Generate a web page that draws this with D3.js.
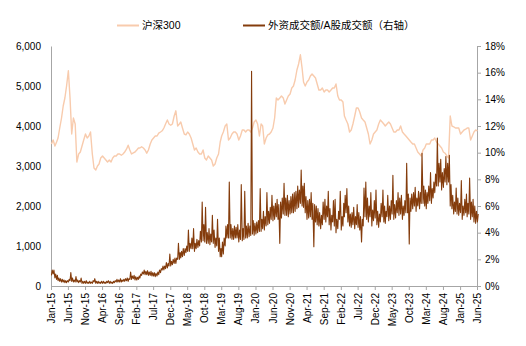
<!DOCTYPE html>
<html><head><meta charset="utf-8">
<script src="https://cdn.jsdelivr.net/npm/d3@7/dist/d3.min.js"></script>
<style>body{margin:0;background:#fff}text{font-family:"Liberation Sans",Arial,"Noto Sans CJK SC",sans-serif}</style>
</head><body><svg id="c" width="526" height="346"></svg>
<script>
// ---------- data (half-monthly samples starting Jan 2015) ----------
const sampleStart = "2015-01-05";
const seriesNames = ["沪深300", "外资成交额/A股成交额（右轴）"];
const leftTicks = [0, 1000, 2000, 3000, 4000, 5000, 6000];
const rightTicks = [0, 2, 4, 6, 8, 10, 12, 14, 16, 18];
const xTickLabels = ["Jan-15","Jun-15","Nov-15","Apr-16","Sep-16","Feb-17","Jul-17","Dec-17","May-18","Oct-18","Mar-19","Aug-19","Jan-20","Jun-20","Nov-20","Apr-21","Sep-21","Feb-22","Jul-22","Dec-22","May-23","Oct-23","Mar-24","Aug-24","Jan-25","Jun-25"];

// CSI 300 index level (left axis), half-monthly
const csi300 = [
 3550,3650,3500,3600,3700,3950,4200,4500,4700,5000,5380,4700,3800,4200,4050,3100,3300,3350,3500,3650,3800,3700,3750,3850,
 3300,2950,2900,3000,3050,3200,3250,3200,3150,3100,3150,3100,3200,3250,3250,3300,3300,3270,3300,3350,3420,3520,3400,3300,
 3330,3350,3400,3450,3450,3480,3450,3400,3320,3400,3550,3650,3700,3750,3750,3820,3850,3880,3950,4050,4150,4050,4020,4050,
 4250,4380,4000,4050,4100,3950,3800,3780,3850,3800,3700,3550,3400,3450,3350,3300,3300,3400,3200,3150,3250,3200,3150,3000,
 3050,3200,3300,3600,3750,3850,4000,4050,3650,3700,3800,3850,3850,3800,3650,3750,3900,3900,3850,3900,3900,3850,3950,4100,
 4150,4050,3750,4050,4000,3550,3700,3780,3800,3850,3950,4200,4700,4650,4700,4750,4700,4550,4650,4750,4800,4950,5000,5150,
 5400,5550,5780,5450,5100,5000,5100,5150,5250,5300,5250,5200,5050,4900,4900,4950,4850,4900,4900,4850,4900,4950,4950,5050,
 4750,4650,4650,4600,4250,4150,4050,3850,3900,4050,4250,4450,4450,4350,4200,4150,4100,3950,3800,3550,3650,3800,3850,3900,
 4050,4150,4100,4050,4000,4050,4100,4050,3950,3850,3850,3900,3900,4000,3850,3800,3750,3700,3650,3600,3550,3550,3450,3350,
 3300,3250,3400,3450,3550,3550,3550,3650,3650,3700,3600,3550,3500,3450,3350,3320,3250,3200,4250,4000,3980,3950,3950,3950,
 3800,3850,3900,3920,3950,3950,3650,3750,3850,3900,3880
];

// Foreign turnover / A-share turnover (%), half-monthly low and high readings
const shareLow = [
 0.8,0.9,0.6,0.5,0.4,0.35,0.3,0.3,0.25,0.25,0.3,0.4,0.35,0.3,0.3,0.3,0.25,0.3,0.2,0.2,0.2,0.2,0.2,0.2,
 0.2,0.3,0.2,0.2,0.2,0.2,0.2,0.2,0.2,0.25,0.2,0.2,0.2,0.25,0.3,0.3,0.3,0.3,0.35,0.35,0.4,0.35,0.5,0.5,
 0.55,0.45,0.45,0.5,0.6,0.8,0.9,0.85,0.85,0.8,0.8,0.75,0.75,0.7,0.75,0.85,1.0,1.2,1.2,1.3,1.35,1.5,1.5,1.6,
 1.7,1.7,2.0,2.0,2.1,2.2,2.3,2.5,2.6,2.6,2.8,2.8,2.6,2.8,2.9,3.0,3.3,3.4,3.3,3.2,3.2,3.1,3.3,3.2,
 2.9,3.0,2.6,2.2,2.2,2.4,3.0,3.6,3.6,3.6,3.5,3.5,3.6,3.6,3.3,3.5,3.4,3.5,3.6,3.6,3.7,3.8,3.9,3.8,
 3.9,4.0,4.1,4.1,4.3,4.2,4.5,4.6,4.7,5.0,4.9,5.0,5.2,5.0,3.2,5.1,5.4,5.3,5.3,5.2,5.4,5.5,5.5,5.6,
 5.8,5.9,6.2,6.0,5.9,5.5,5.0,5.1,5.2,5.0,2.95,4.8,4.6,4.5,4.3,4.6,5.0,4.8,5.2,4.6,4.2,4.8,4.5,4.0,
 4.3,5.0,4.2,4.5,5.2,5.5,4.8,4.5,4.4,4.6,4.3,4.6,4.4,4.2,3.3,4.5,5.2,5.0,4.8,5.2,4.5,4.9,5.1,4.6,
 4.4,4.8,5.2,4.8,4.7,5.2,4.9,5.0,5.4,5.0,5.1,5.5,5.3,5.4,5.0,5.3,5.5,5.5,3.15,5.6,5.8,6.0,5.6,6.0,
 5.8,6.2,6.2,6.0,5.8,6.2,6.4,6.2,6.6,7.0,7.5,7.5,7.8,7.2,7.4,7.8,7.6,7.8,6.0,5.8,5.4,5.6,5.4,5.3,
 5.5,5.0,5.3,5.5,5.2,5.4,5.0,5.2,4.8,4.7,4.8
];
const shareHigh = [
 1.2,1.2,0.9,0.8,0.6,0.55,0.5,0.45,0.4,0.4,0.5,1.0,0.6,0.45,0.7,0.45,0.4,0.6,0.35,0.35,0.4,0.3,0.35,0.3,
 0.4,0.55,0.35,0.35,0.3,0.35,0.35,0.3,0.35,0.4,0.35,0.3,0.35,0.4,0.5,0.45,0.55,0.45,0.5,0.55,0.6,0.55,1.05,0.75,
 0.8,0.7,0.65,0.75,0.9,1.05,1.2,1.1,1.15,1.05,1.1,1.0,1.0,0.95,1.05,1.2,1.3,1.5,1.5,1.75,1.7,2.4,1.85,2.0,
 2.1,2.1,3.2,2.5,2.6,2.8,2.8,3.0,4.2,3.2,3.6,4.3,3.2,3.5,3.4,4.1,6.3,4.6,5.9,4.0,4.3,3.9,5.3,4.2,
 3.6,5.0,3.6,2.8,3.3,3.6,4.5,4.6,7.8,4.6,4.3,4.5,4.4,4.6,4.2,7.6,4.3,7.1,4.5,4.7,4.5,16.1,4.9,4.7,
 4.8,4.9,7.3,5.0,5.6,5.2,7.0,5.6,5.9,6.8,6.0,6.2,6.5,6.1,6.3,6.6,7.7,6.6,6.8,6.4,6.7,6.9,7.0,7.1,
 7.5,7.2,8.7,7.5,7.7,6.7,6.4,6.5,7.0,6.2,6.1,6.0,5.8,5.5,5.3,6.3,6.5,6.0,7.1,5.8,5.3,6.4,6.5,5.0,
 5.6,7.1,5.2,6.2,6.8,7.3,6.0,5.4,5.5,5.9,5.2,6.1,5.5,5.2,5.0,7.35,7.8,6.6,6.0,7.0,5.7,6.4,7.2,5.6,
 5.4,6.2,7.2,6.0,5.6,6.8,6.0,6.4,8.3,6.1,6.4,7.0,6.6,6.8,6.0,6.4,9.2,6.9,6.6,6.9,7.0,7.4,6.6,7.1,
 7.0,9.95,7.5,7.2,7.0,7.5,8.5,7.3,7.8,8.4,11.1,9.2,9.5,8.5,8.8,9.7,9.2,9.8,7.6,6.8,6.3,7.35,6.6,6.2,
 7.9,6.0,6.5,6.9,6.2,8.1,6.3,6.5,6.0,5.6,5.4
];

// ---------- layout ----------
const svg = d3.select("#c");
const M = {left: 51, right: 477, top: 46, bottom: 286};
const parse = d3.timeParse("%Y-%m-%d");
const t0 = parse(sampleStart);
const dateOf = i => d3.timeDay.offset(d3.timeMonth.offset(t0, Math.floor(i / 2)), (i % 2) * 15);

const x = d3.scaleTime().domain([parse("2015-01-01"), parse("2025-06-01")]).range([M.left, M.right]);
const yL = d3.scaleLinear().domain([0, 6000]).range([M.bottom, M.top]);
const yR = d3.scaleLinear().domain([0, 18]).range([M.bottom, M.top]);

const axisColor = "#A6A6A6";
const fmt = d3.format(",");

// left axis
const gL = svg.append("g").attr("transform", `translate(${M.left},0)`)
  .call(d3.axisLeft(yL).tickValues(leftTicks).tickSize(0).tickPadding(10).tickFormat(fmt));
gL.select(".domain").attr("stroke", axisColor);
gL.selectAll("text").attr("font-size", 10).attr("fill", "#000");

// right axis
const gR = svg.append("g").attr("transform", `translate(${M.right},0)`)
  .call(d3.axisRight(yR).tickValues(rightTicks).tickSize(4).tickPadding(4).tickFormat(d => d + "%"));
gR.select(".domain").attr("stroke", axisColor);
gR.selectAll("line").attr("stroke", axisColor);
gR.selectAll("text").attr("font-size", 10).attr("fill", "#000");

// x axis
const monthFmt = d3.timeFormat("%b-%y");
const xTicks = xTickLabels.map(s => d3.timeParse("%b-%y")(s));
const gX = svg.append("g").attr("transform", `translate(0,${M.bottom})`)
  .call(d3.axisBottom(x).tickValues(xTicks).tickSize(4).tickPadding(3).tickSizeOuter(0).tickFormat(monthFmt));
gX.select(".domain").attr("stroke", axisColor);
gX.selectAll("line").attr("stroke", axisColor);
gX.selectAll("text").attr("font-size", 10).attr("fill", "#000")
  .attr("transform", "rotate(-90)").attr("text-anchor", "end")
  .attr("x", -7).attr("y", 0).attr("dy", "0.35em");

// lines
const csiLine = d3.line().x((d, i) => x(dateOf(i))).y(d => yL(d));
svg.append("path").datum(csi300).attr("d", csiLine)
  .attr("fill", "none").attr("stroke", "#F8CBAD").attr("stroke-width", 1.4).attr("stroke-linejoin", "round");

// foreign share: trace each half-month's low then high reading
const sharePts = [];
shareLow.forEach((lo, i) => {
  const d = dateOf(i);
  sharePts.push([d, lo]);
  sharePts.push([d3.timeDay.offset(d, 7), shareHigh[i]]);
});
const shareLine = d3.line().x(d => x(d[0])).y(d => yR(d[1]));
svg.append("path").datum(sharePts).attr("d", shareLine)
  .attr("fill", "none").attr("stroke", "#843C0C").attr("stroke-width", 1.1).attr("stroke-linejoin", "round");

// legend
const legend = [
  {name: seriesNames[0], color: "#F8CBAD", x: 117},
  {name: seriesNames[1], color: "#843C0C", x: 243}
];
const lg = svg.append("g");
legend.forEach(l => {
  lg.append("line").attr("x1", l.x).attr("x2", l.x + 22).attr("y1", 25.5).attr("y2", 25.5)
    .attr("stroke", l.color).attr("stroke-width", 2);
  lg.append("text").attr("x", l.x + 25).attr("y", 25.5).attr("dy", "0.35em")
    .attr("font-size", 10.5).attr("fill", "#000").text(l.name);
});
</script>
</body></html>
